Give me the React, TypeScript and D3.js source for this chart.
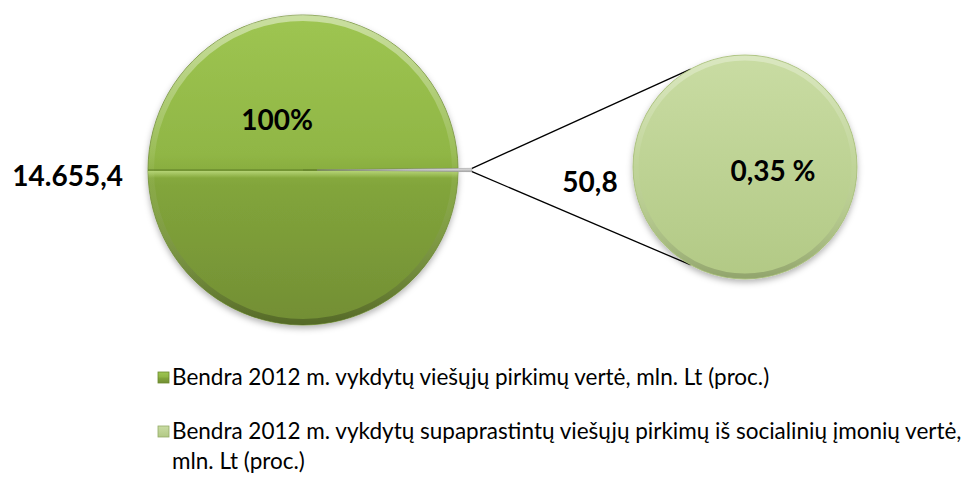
import React from 'react';
import * as d3 from 'd3';

// ---- data ----
const categories = [
  'Bendra 2012 m. vykdytų viešųjų pirkimų vertė, mln. Lt (proc.)',
  'Bendra 2012 m. vykdytų supaprastintų viešųjų pirkimų iš socialinių įmonių vertė,',
];
const categoryWrap = ['', 'mln. Lt (proc.)'];
const values = [14655.4, 50.8];
const valueLabels = ['14.655,4', '50,8'];
const percentLabels = ['100%', '0,35 %'];

const W = 968;
const H = 495;

export default function App() {
  const c1 = { x: 303, y: 170 };
  const r1 = 155;
  const c2 = { x: 745, y: 167 };
  const r2 = 112;
  const explode = 14;

  const total = values[0] + values[1];
  const otherAngle = (2 * Math.PI * values[1]) / total;
  const start = Math.PI / 2 + otherAngle / 2;
  const pie = d3.pie<number>().sort(null).value((d) => d).startAngle(start).endAngle(start + 2 * Math.PI);
  const arcs = pie(values);
  const arc1 = d3.arc<d3.PieArcDatum<number>>().innerRadius(0).outerRadius(r1);
  const pie2 = d3.pie<number>().sort(null).value((d) => d);
  const arcs2 = pie2([values[1]]);
  const arc2 = d3.arc<d3.PieArcDatum<number>>().innerRadius(0).outerRadius(r2);

  const otherMid = (arcs[1].startAngle + arcs[1].endAngle) / 2;
  const ex = explode * Math.sin(otherMid);
  const ey = -explode * Math.cos(otherMid);
  const tip1 = {
    x: c1.x + ex + r1 * Math.sin(arcs[1].startAngle),
    y: c1.y + ey - r1 * Math.cos(arcs[1].startAngle),
  };
  const tip2 = {
    x: c1.x + ex + r1 * Math.sin(arcs[1].endAngle),
    y: c1.y + ey - r1 * Math.cos(arcs[1].endAngle),
  };
  const connA = (119 * Math.PI) / 180;
  const p2top = { x: c2.x + r2 * Math.cos(-connA), y: c2.y + r2 * Math.sin(-connA) };
  const p2bot = { x: c2.x + r2 * Math.cos(connA), y: c2.y + r2 * Math.sin(connA) };

  const boldFont = "Lato, 'Open Sans', sans-serif";
  const bold = { fontFamily: boldFont, fontWeight: 700, fontSize: 28, fill: '#000' } as const;
  const legendFont = { fontFamily: "Lato, 'Open Sans', sans-serif", fontSize: 22.5, fill: '#000' } as const;

  return (
    <svg width={W} height={H} style={{ position: 'absolute', left: 0, top: 0, background: '#fff' }}>
      <defs>
        <linearGradient id="g1" x1="0" y1="0" x2="0" y2="1">
          <stop offset="0" stopColor="#9ec552" />
          <stop offset="0.45" stopColor="#90b645" />
          <stop offset="0.55" stopColor="#82a53b" />
          <stop offset="1" stopColor="#728e34" />
        </linearGradient>
        <linearGradient id="g2" x1="0" y1="0" x2="0" y2="1">
          <stop offset="0" stopColor="#c9dca3" />
          <stop offset="1" stopColor="#b2c985" />
        </linearGradient>
        <linearGradient id="bevel" x1="0" y1="0" x2="0" y2="1">
          <stop offset="0" stopColor="#ffffff" stopOpacity="0.45" />
          <stop offset="0.5" stopColor="#ffffff" stopOpacity="0.05" />
          <stop offset="1" stopColor="#000000" stopOpacity="0.25" />
        </linearGradient>
        <linearGradient id="gg" x1="0" y1="0" x2="0" y2="1">
          <stop offset="0" stopColor="#e6e6e6" />
          <stop offset="1" stopColor="#a6a6a6" />
        </linearGradient>
        <linearGradient id="seam" x1="0" y1="0" x2="0" y2="1">
          <stop offset="0" stopColor="#b9d77a" stopOpacity="0.9" />
          <stop offset="1" stopColor="#b9d77a" stopOpacity="0" />
        </linearGradient>
        <filter id="sh" x="-20%" y="-20%" width="140%" height="140%">
          <feDropShadow dx="0" dy="3" stdDeviation="3" floodColor="#000" floodOpacity="0.3" />
        </filter>
        <clipPath id="clip1">
          <circle cx={c1.x} cy={c1.y} r={r1} />
        </clipPath>
      </defs>

      {/* first pie */}
      <g transform={`translate(${c1.x},${c1.y})`} filter="url(#sh)">
        <path d={arc1(arcs[0]) || ''} fill="url(#g1)" stroke="#6c8a2e" strokeWidth={0.8} />
      </g>
      <g transform={`translate(${c1.x},${c1.y})`}>
        <circle r={r1 - 3} fill="none" stroke="url(#bevel)" strokeWidth={6} />
      </g>
      {/* seam along the slice edges */}
      <g clipPath="url(#clip1)">
        <rect x={c1.x - r1} y={c1.y + 1} width={2 * r1} height={7} fill="url(#seam)" />
        <line x1={c1.x - r1} x2={c1.x + r1} y1={c1.y} y2={c1.y} stroke="#5f7d27" strokeWidth={1.2} />
      </g>
      {/* exploded other slice */}
      <g transform={`translate(${c1.x + ex},${c1.y + ey})`}>
        <path d={arc1(arcs[1]) || ''} fill="url(#gg)" stroke="#8c8c8c" strokeWidth={0.5} />
      </g>

      {/* connectors */}
      <line x1={tip1.x} y1={tip1.y} x2={p2top.x} y2={p2top.y} stroke="#000" strokeWidth={1.3} />
      <line x1={tip2.x} y1={tip2.y} x2={p2bot.x} y2={p2bot.y} stroke="#000" strokeWidth={1.3} />

      {/* second pie */}
      <g transform={`translate(${c2.x},${c2.y})`} filter="url(#sh)">
        <path d={arc2(arcs2[0]) || ''} fill="url(#g2)" stroke="#a3bb72" strokeWidth={0.8} />
      </g>
      <g transform={`translate(${c2.x},${c2.y})`}>
        <circle r={r2 - 3} fill="none" stroke="url(#bevel)" strokeWidth={5} opacity={0.7} />
      </g>

      {/* labels */}
      <text x={277} y={130} textAnchor="middle" style={bold}>{percentLabels[0]}</text>
      <text x={c1.x - r1 - 25} y={186} textAnchor="end" style={bold}>{valueLabels[0]}</text>
      <text x={590} y={192} textAnchor="middle" style={bold}>{valueLabels[1]}</text>
      <text x={773} y={181} textAnchor="middle" style={bold}>{percentLabels[1]}</text>

      {/* legend */}
      <g>
        <rect x={158} y={372} width={11} height={11} fill="url(#g1)" stroke="#6c8a2e" strokeWidth={0.8} />
        <text x={172} y={385} style={legendFont}>{categories[0]}</text>
        <rect x={158} y={426} width={11} height={11} fill="url(#g2)" stroke="#93ab66" strokeWidth={0.8} />
        <text x={172} y={439} style={legendFont}>{categories[1]}</text>
        <text x={172} y={469} style={legendFont}>{categoryWrap[1]}</text>
      </g>
    </svg>
  );
}
